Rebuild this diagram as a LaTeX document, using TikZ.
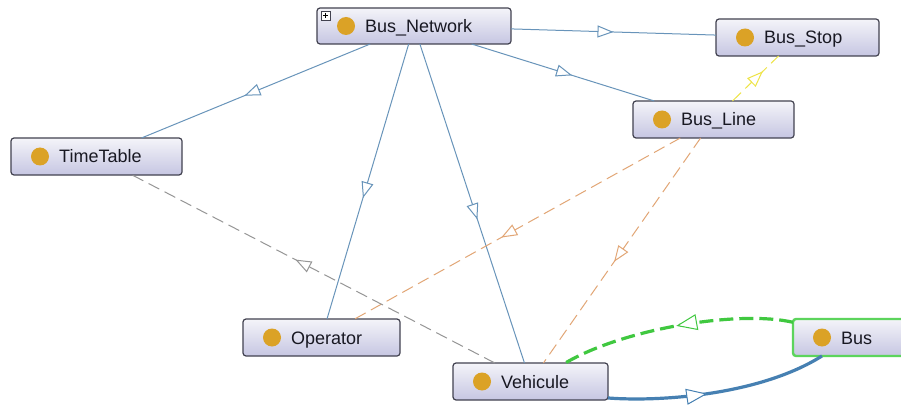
\documentclass[tikz,border=0pt]{standalone}
\usepackage{fontspec}
\setmainfont{Liberation Sans}
\usetikzlibrary{arrows.meta,decorations.markings,calc}

\definecolor{boxline}{RGB}{66,66,80}
\definecolor{boxtop}{RGB}{244,244,249}
\definecolor{boxbot}{RGB}{198,198,226}
\definecolor{dotc}{RGB}{219,162,38}
\definecolor{txtc}{RGB}{24,24,34}
\definecolor{edgeblue}{RGB}{104,148,186}
\definecolor{edgegray}{RGB}{150,150,150}
\definecolor{edgeorange}{RGB}{226,166,118}
\definecolor{edgeyellow}{RGB}{238,228,70}
\definecolor{edgegreen}{RGB}{64,200,64}
\definecolor{edgethick}{RGB}{70,128,178}
\definecolor{busline}{RGB}{92,212,92}

\tikzset{
  opentri/.tip={Triangle[open, length=16pt, width=12pt, line width=1pt, fill=white]},
  bigtri/.tip={Triangle[open, length=21pt, width=16pt, line width=1pt, fill=white]},
  cls/.style={draw=boxline, line width=1.2pt, rounded corners=3pt,
    top color=boxtop, bottom color=boxbot, minimum height=37pt,
    inner sep=0pt, outer sep=0pt},
  lbl/.style={font=\fontsize{18}{20}\selectfont, text=txtc, inner sep=0pt, anchor=base west},
  midtip/.style={postaction={decorate}, decoration={markings,
    mark=at position #1 with {\arrow{opentri}}}},
  bigtip/.style={postaction={decorate}, decoration={markings,
    mark=at position #1 with {\arrow{bigtri}}}},
  subcls/.style={color=edgeblue, line width=1pt},
  refgray/.style={color=edgegray, line width=1pt, dash pattern=on 12pt off 6pt},
  reforange/.style={color=edgeorange, line width=1pt, dash pattern=on 12pt off 6pt},
  refyellow/.style={color=edgeyellow, line width=1pt, dash pattern=on 12pt off 6pt},
  refgreen/.style={color=edgegreen, line width=3.2pt, dash pattern=on 14pt off 6pt},
  refthick/.style={color=edgethick, line width=3.2pt},
}

\begin{document}
\begin{tikzpicture}[x=1pt, y=-1pt]
\useasboundingbox (0,0) rectangle (901,406);
\fill[white] (0,0) rectangle (901,406);
\clip (0,0) rectangle (901,406);

% class boxes
\node[cls, minimum width=194pt, minimum height=36pt] (bn) at (414,26) {};
\node[cls, minimum width=163pt] (bs) at (797.5,37.5) {};
\node[cls, minimum width=161pt] (bl) at (713.5,119.5) {};
\node[cls, minimum width=171pt] (tt) at (96.5,156.5) {};
\node[cls, minimum width=157pt] (op) at (321.5,337.5) {};
\node[cls, minimum width=155pt] (ve) at (530.5,381.5) {};
\node[cls, draw=busline, line width=2.4pt, minimum width=122pt] (bus) at (854,337.5) {};

% class icons and names
\foreach \n/\t in {bn/Bus\_Network, bs/Bus\_Stop, bl/Bus\_Line, tt/TimeTable,
                   op/Operator, ve/Vehicule, bus/Bus} {
  \fill[dotc] ($(\n.west)+(29,0)$) circle (9pt);
  \node[lbl] (\n-name) at ($(\n.west)+(48,6.5)$) {\t};
}

% expand marker
\draw[boxline, fill=white, line width=0.7pt] (321,11) rectangle (330,20);
\draw[black, line width=0.9pt] (322.8,15.5) -- (328.2,15.5) (325.5,12.8) -- (325.5,18.2);

% subclass links
\draw[subcls, midtip=0.55] (bn) -- (tt);
\draw[subcls, midtip=0.56] (bn) -- (op);
\draw[subcls, midtip=0.55] (bn) -- (ve);
\draw[subcls, midtip=0.55] (bn) -- (bl);
\draw[subcls, midtip=0.5] (bn) -- (bs);

% object property links
\draw[refyellow, midtip=0.66] (bl) -- (bs);
\draw[reforange, midtip=0.55] (bl) -- (op);
\draw[reforange, midtip=0.55] (bl) -- (ve);
\draw[refgray, midtip=0.55] (ve) -- (tt);

% links between Vehicule and Bus
\draw[refgreen, bigtip=0.5] (bus.166) .. controls (740,310) and (625,328) .. (ve.28);
\draw[refthick, bigtip=0.45] (ve.-12) .. controls (660,402) and (760,395) .. (bus.-150);
\end{tikzpicture}
\end{document}
